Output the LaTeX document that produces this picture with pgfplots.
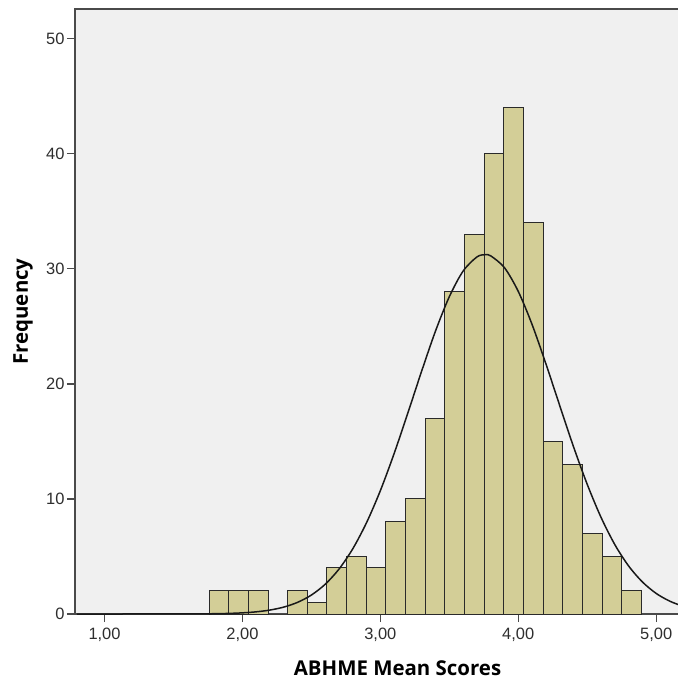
\documentclass[border=0pt]{standalone}
\usepackage{pgfplots}
\pgfplotsset{compat=1.18}
\usepackage{fontspec}
\setmainfont{Liberation Sans}
\newfontfamily\labfont{Open Sans}
\definecolor{bgc}{HTML}{F0F0F0}
\definecolor{barc}{HTML}{D3CE97}
\definecolor{edgec}{HTML}{2A2A2A}
\definecolor{axc}{HTML}{4A4A4A}
\definecolor{tickc}{HTML}{2E2E2E}
\begin{document}
\begin{tikzpicture}
\begin{axis}[
  scale only axis, width=645bp, height=605bp,
  xmin=0.786, xmax=5.463, ymin=0, ymax=52.6,
  axis background/.style={fill=bgc},
  axis line style={draw=axc, line width=1.2bp},
  xtick={1,2,3,4,5},
  xticklabels={{1,00},{2,00},{3,00},{4,00},{5,00}},
  ytick={0,10,20,30,40,50},
  tick align=outside, tick pos=left,
  major tick length=8bp,
  tick style={draw=axc, line width=1.1bp},
  /pgf/number format/assume math mode=true,
  ticklabel style={font=\fontsize{16.5}{18}\selectfont, text=tickc},
  yticklabel style={xshift=1bp},
  xticklabel style={yshift=-2bp},
  xlabel={ABHME Mean Scores}, ylabel={Frequency},
  label style={font=\labfont\bfseries\fontsize{20.5}{22}\selectfont},
  xlabel style={at={([yshift=-54bp]axis description cs:0.5,0)}, anchor=center},
  ylabel style={at={([xshift=-52bp]axis description cs:0,0.5)}, anchor=center, rotate=0},
]
\addplot[ybar interval, fill=barc, draw=edgec, line width=1bp] coordinates {
(1.7580,2) (1.9005,2) (2.0430,2) (2.1855,0) (2.3280,2) (2.4705,1)
(2.6130,4) (2.7555,5) (2.8980,4) (3.0405,8) (3.1830,10) (3.3255,17)
(3.4680,28) (3.6105,33) (3.7530,40) (3.8955,44) (4.0380,34) (4.1805,15)
(4.3230,13) (4.4655,7) (4.6080,5) (4.7505,2) (4.8930,2)
};
\addplot[black!90, line width=1.5bp, smooth, no markers] coordinates {
(0.80,0.000) (1.00,0.000) (1.20,0.0002) (1.40,0.001) (1.60,0.0055)
(1.80,0.025) (1.90,0.051) (2.00,0.100) (2.10,0.189) (2.20,0.343)
(2.30,0.601) (2.40,1.014) (2.50,1.648) (2.60,2.583) (2.70,3.899)
(2.80,5.667) (2.90,7.941) (3.00,10.72) (3.10,13.95) (3.20,17.49)
(3.30,21.13) (3.40,24.60) (3.50,27.58) (3.60,29.81) (3.70,31.04)
(3.759,31.24) (3.80,31.14) (3.90,30.11) (4.00,28.05) (4.10,25.18)
(4.20,21.77) (4.30,18.15) (4.40,14.57) (4.50,11.28) (4.60,8.41)
(4.70,6.04) (4.80,4.18) (4.90,2.79) (5.00,1.79) (5.10,1.11) (5.20,0.662)
(5.30,0.381) (5.46,0.145)
};
\coordinate (bl) at (rel axis cs:0,0);
\coordinate (tl) at (rel axis cs:0,1);
\end{axis}
\pgfresetboundingbox
\path[use as bounding box] ([shift={(-75bp,-70bp)}]bl) rectangle ([shift={(603bp,9bp)}]tl);
\end{tikzpicture}
\end{document}
